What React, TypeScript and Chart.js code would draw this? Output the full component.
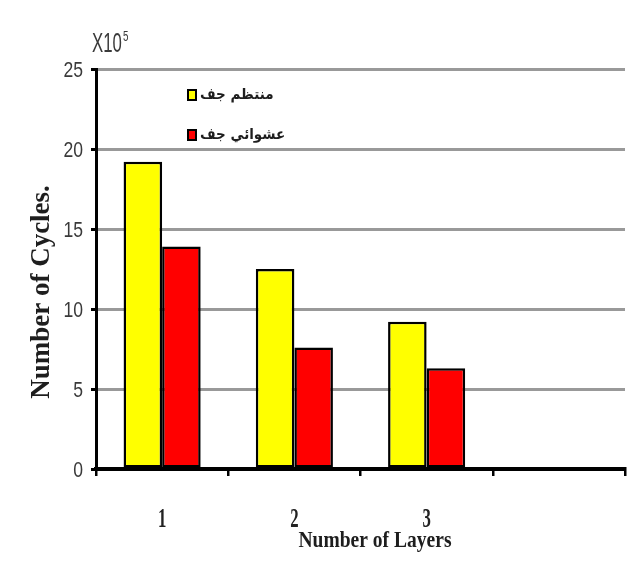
import { useEffect, useRef } from "react";
import { Chart, registerables } from "chart.js";

Chart.register(...registerables);

// Number of layers on the x axis (the fourth slot is left empty)
const layers = ["1", "2", "3", ""];
// Cycles to failure, in units of 10^5
const regularCycles = [19.2, 12.5, 9.2, null];
const randomCycles = [13.9, 7.6, 6.3, null];
const seriesNames = ["منتظم جف", "عشوائي جف"];
const seriesColors = ["#ffff00", "#ff0000"];
const yMax = 25;
const yStep = 5;
const yTitle = "Number of Cycles.";
const xTitle = "Number of Layers";
const unitBase = "X10";
const unitExp = "5";

// Draws text with an optional horizontal squeeze (narrow typefaces)
function drawText(
  ctx: CanvasRenderingContext2D,
  text: string,
  x: number,
  y: number,
  font: string,
  color: string,
  align: CanvasTextAlign,
  baseline: CanvasTextBaseline,
  sx = 1
) {
  ctx.save();
  ctx.translate(x, y);
  ctx.scale(sx, 1);
  ctx.font = font;
  ctx.fillStyle = color;
  ctx.textAlign = align;
  ctx.textBaseline = baseline;
  ctx.fillText(text, 0, 0);
  ctx.restore();
}

const labelsPlugin = {
  id: "labelsPlugin",
  afterDraw(chart: any) {
    const { ctx, scales } = chart;
    const xs = scales.x;
    const ys = scales.y;

    // y tick labels
    ys.ticks.forEach((t: any) => {
      const py = ys.getPixelForValue(t.value);
      drawText(ctx, String(t.value), 83, py + 2, '22px "Liberation Sans"', "#3a3a3a", "right", "middle", 0.8);
    });

    // x tick labels
    layers.forEach((lab, i) => {
      if (!lab) return;
      const px = xs.getPixelForValue(i);
      drawText(ctx, lab, px, 520, 'bold 27px "Liberation Serif"', "#222", "center", "middle", 0.62);
    });

    // axis titles
    ctx.save();
    ctx.translate(42, 292);
    ctx.rotate(-Math.PI / 2);
    ctx.font = 'bold 27px "Liberation Serif"';
    ctx.fillStyle = "#1e1e1e";
    ctx.textAlign = "center";
    ctx.textBaseline = "middle";
    ctx.fillText(yTitle, 0, 0);
    ctx.restore();

    drawText(ctx, xTitle, 375, 547, 'bold 23px "Liberation Serif"', "#1e1e1e", "center", "alphabetic", 0.85);

    // unit label above the y axis
    ctx.save();
    ctx.font = '28px "Liberation Sans"';
    const baseW = ctx.measureText(unitBase).width * 0.6;
    ctx.restore();
    drawText(ctx, unitBase, 92, 52, '28px "Liberation Sans"', "#3a3a3a", "left", "alphabetic", 0.6);
    drawText(ctx, unitExp, 92 + baseW + 1, 41, '14px "Liberation Sans"', "#3a3a3a", "left", "alphabetic", 0.7);

    // legend
    const rows = [95, 135];
    seriesNames.forEach((name, i) => {
      const cy = rows[i];
      ctx.save();
      ctx.fillStyle = seriesColors[i];
      ctx.strokeStyle = "#000";
      ctx.lineWidth = 2;
      ctx.fillRect(188, cy - 5, 8, 10);
      ctx.strokeRect(188, cy - 5, 8, 10);
      ctx.restore();
      drawText(ctx, name, 200, cy, 'bold 15px "DejaVu Sans"', "#1e1e1e", "left", "middle", 0.9);
    });
  },
};

export default function App() {
  const canvasRef = useRef<HTMLCanvasElement | null>(null);

  useEffect(() => {
    if (!canvasRef.current) return;
    const chart = new Chart(canvasRef.current, {
      type: "bar",
      data: {
        labels: layers,
        datasets: [
          {
            label: seriesNames[0],
            data: regularCycles,
            backgroundColor: seriesColors[0],
            borderColor: "#000",
            borderWidth: 2.5,
            borderSkipped: false,
            barPercentage: 1,
            categoryPercentage: 0.583,
          },
          {
            label: seriesNames[1],
            data: randomCycles,
            backgroundColor: seriesColors[1],
            borderColor: "#000",
            borderWidth: 2.5,
            borderSkipped: false,
            barPercentage: 1,
            categoryPercentage: 0.583,
          },
        ],
      },
      options: {
        animation: false,
        responsive: true,
        maintainAspectRatio: false,
        layout: { padding: { top: 69, right: 11, left: 0, bottom: 0 } },
        plugins: {
          legend: { display: false },
          tooltip: { enabled: false },
        },
        scales: {
          x: {
            offset: true,
            grid: {
              offset: true,
              drawOnChartArea: false,
              drawTicks: true,
              tickLength: 7,
              tickColor: "#000",
              color: "#000",
              lineWidth: 2.5,
            },
            border: { display: true, color: "#000", width: 4 },
            ticks: { display: false },
            afterFit: (s: any) => {
              s.height = 103;
            },
          },
          y: {
            min: 0,
            max: yMax,
            ticks: { stepSize: yStep, display: false },
            grid: {
              color: (c: any) => (c.tick && c.tick.value === 0 ? "rgba(0,0,0,0)" : "#999999"),
              lineWidth: 3,
              drawTicks: true,
              tickLength: 5,
              tickColor: "#000",
            },
            border: { display: true, color: "#000", width: 3 },
            afterFit: (s: any) => {
              s.width = 96;
            },
          },
        },
      },
      plugins: [labelsPlugin],
    });
    return () => chart.destroy();
  }, []);

  return (
    <div style={{ position: "absolute", left: 0, top: 0, width: 636, height: 572, background: "#fff" }}>
      <canvas ref={canvasRef} />
    </div>
  );
}
